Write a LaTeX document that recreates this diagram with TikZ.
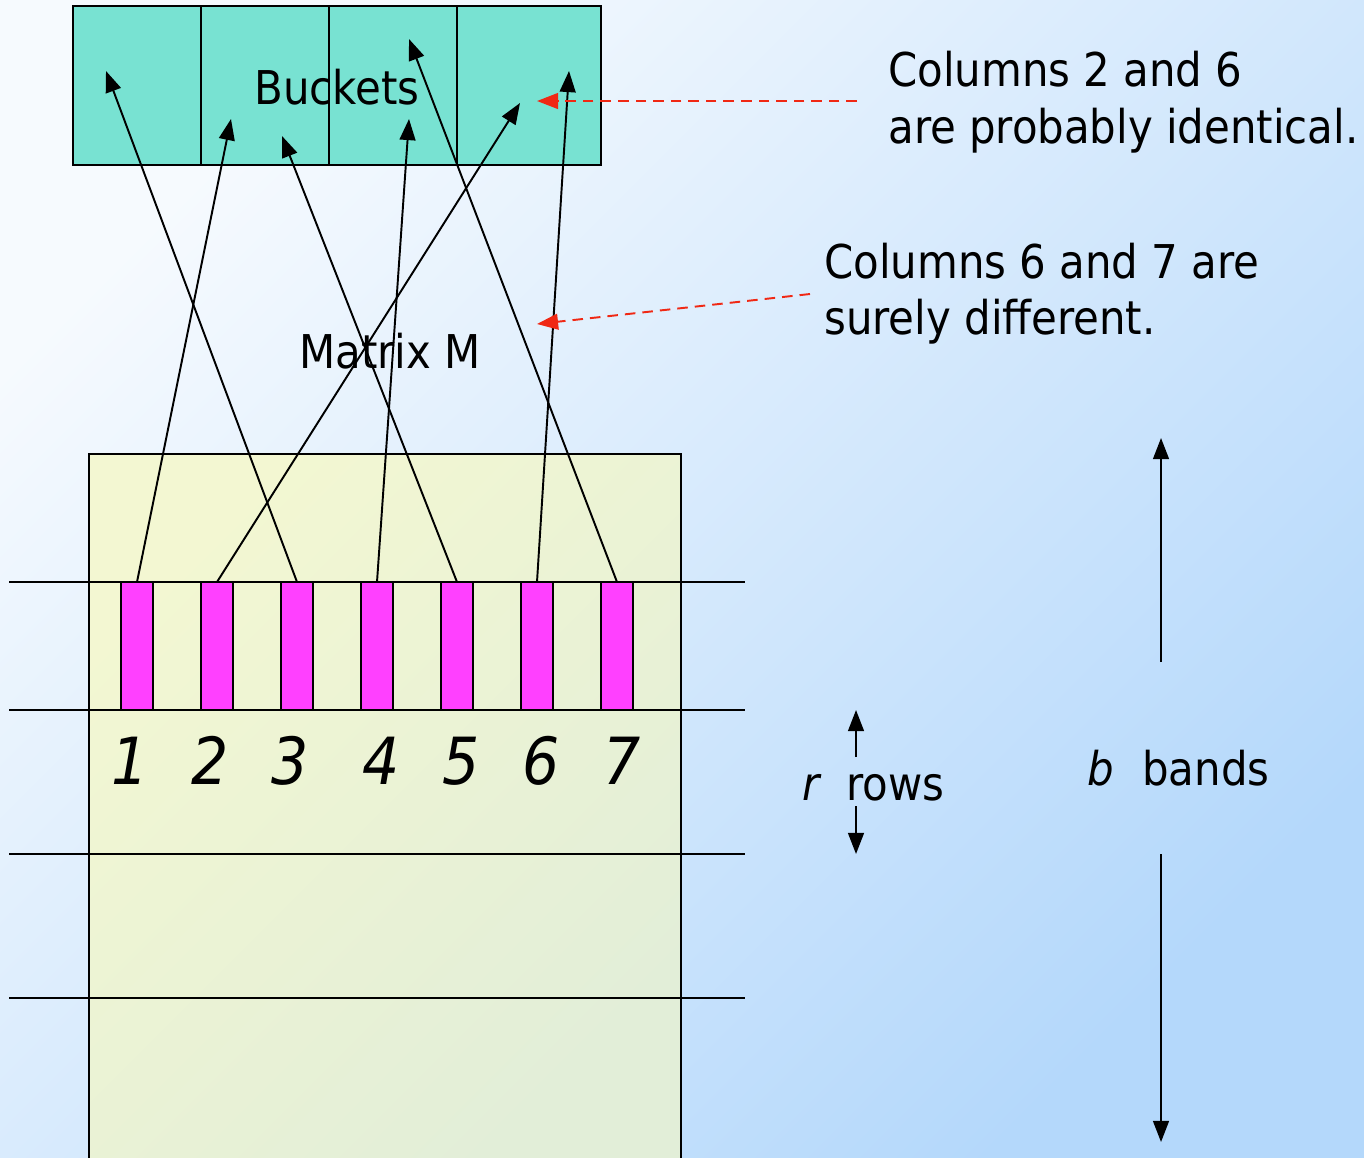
\documentclass[tikz,border=0pt]{standalone}
\usepackage{fontspec}
\setmainfont{DejaVu Sans Condensed}
\usetikzlibrary{arrows.meta}
\definecolor{bgA}{RGB}{246,250,254}
\definecolor{bgB}{RGB}{180,216,251}
\definecolor{bucketfill}{RGB}{120,226,210}
\definecolor{matA}{RGB}{243,247,210}
\definecolor{matB}{RGB}{226,238,216}
\definecolor{barfill}{RGB}{255,64,255}
\definecolor{redarrow}{RGB}{240,40,20}
\tikzset{
  bucket/.style={draw=black, line width=1.4pt, fill=bucketfill, minimum width=128*0.02cm, minimum height=159*0.02cm, inner sep=0pt, outer sep=0pt},
  bar/.style={draw=black, line width=1.2pt, fill=barfill, minimum width=32*0.02cm, minimum height=128*0.02cm, inner sep=0pt, outer sep=0pt},
  hash/.style={line width=1.1pt, -{Triangle[length=12pt,width=9pt]}},
  redhint/.style={draw=redarrow, line width=1.1pt, dash pattern=on 6pt off 4pt, -{Triangle[length=12pt,width=9pt]}},
  bandline/.style={line width=1.1pt},
  txt/.style={inner sep=0pt, anchor=base west, font=\fontsize{26.5}{32}\selectfont},
  digit/.style={inner sep=0pt, anchor=base, font=\fontsize{37}{40}\selectfont\itshape},
}
\begin{document}
\begin{tikzpicture}[x=0.02cm, y=-0.02cm]
\useasboundingbox (0,0) rectangle (1364,1157);
\shade[left color=bgA, right color=bgB, shading angle=45] (0,0) rectangle (1364,1157);
% matrix box
\shade[left color=matA, right color=matB, shading angle=45] (89,454) rectangle (681,1160);
\node[draw=black, line width=1.2pt, minimum width=592*0.02cm, minimum height=720*0.02cm, inner sep=0pt, outer sep=0pt, anchor=north west] (mat) at (89,454) {};
% band lines
\coordinate (l1a) at (9,582); \coordinate (l1b) at (745,582);
\coordinate (l2a) at (9,710); \coordinate (l2b) at (745,710);
\coordinate (l3a) at (9,854); \coordinate (l3b) at (745,854);
\coordinate (l4a) at (9,998); \coordinate (l4b) at (745,998);
\draw[bandline] (l1a) -- (l1b);
\draw[bandline] (l2a) -- (l2b);
\draw[bandline] (l3a) -- (l3b);
\draw[bandline] (l4a) -- (l4b);
% bars
\foreach \i/\x in {1/137,2/217,3/297,4/377,5/457,6/537,7/617} {
  \node[bar] (bar\i) at (\x,646) {};
}
% digits
\node[digit] (d1) at (130,784) {1};
\node[digit] (d2) at (210,784) {2};
\node[digit] (d3) at (290,784) {3};
\node[digit] (d4) at (381,784) {4};
\node[digit] (d5) at (461,784) {5};
\node[digit] (d6) at (541,784) {6};
\node[digit] (d7) at (622,784) {7};
% buckets
\node[bucket] (bk1) at (137,85.5) {};
\node[bucket] (bk2) at (265,85.5) {};
\node[bucket] (bk3) at (393,85.5) {};
\node[bucket] (bk4) at (529,85.5) [minimum width=144*0.02cm] {};
\node[inner sep=0pt, anchor=base, font=\fontsize{26.5}{32}\selectfont] (bklabel) at (337,104) {Buckets};
% hash targets
\coordinate (t1) at (231,119);
\coordinate (t2) at (520,103);
\coordinate (t3) at (106,71);
\coordinate (t4) at (409,119);
\coordinate (t5) at (282,136);
\coordinate (t6) at (569,71);
\coordinate (t7) at (409,39);
\draw[hash] (bar1.north) -- (t1);
\draw[hash] (bar2.north) -- (t2);
\draw[hash] (bar3.north) -- (t3);
\draw[hash] (bar4.north) -- (t4);
\draw[hash] (bar5.north) -- (t5);
\draw[hash] (bar6.north) -- (t6);
\draw[hash] (bar7.north) -- (t7);
% Matrix M label
\node[inner sep=0pt, anchor=base, font=\fontsize{26.5}{32}\selectfont] (mlabel) at (390,368) {Matrix M};
% notes
\node[txt] (n1a) at (888,86) {Columns 2 and 6};
\node[txt] (n1b) at (888,143) {are probably identical.};
\node[txt] (n2a) at (824,278) {Columns 6 and 7 are};
\node[txt] (n2b) at (824,334) {surely different.};
\coordinate (h1s) at (857,101); \coordinate (h1e) at (537,101);
\coordinate (h2s) at (810,294); \coordinate (h2e) at (537,324);
\draw[redhint] (h1s) -- (h1e);
\draw[redhint] (h2s) -- (h2e);
% r rows
\node[txt, font=\fontsize{26.5}{32}\selectfont\itshape] (rl) at (802,800) {r};
\node[txt] (rowsl) at (846,800) {rows};
\coordinate (ra) at (856,757); \coordinate (rat) at (856,710);
\coordinate (rb) at (856,806); \coordinate (rbt) at (856,854);
\draw[hash] (ra) -- (rat);
\draw[hash] (rb) -- (rbt);
% b bands
\node[txt, font=\fontsize{26.5}{32}\selectfont\itshape] (bl) at (1087,785) {b};
\node[txt] (bandsl) at (1142,785) {bands};
\coordinate (ba) at (1161,662); \coordinate (bat) at (1161,438);
\coordinate (bb) at (1161,854); \coordinate (bbt) at (1161,1142);
\draw[hash] (ba) -- (bat);
\draw[hash] (bb) -- (bbt);
\end{tikzpicture}
\end{document}
